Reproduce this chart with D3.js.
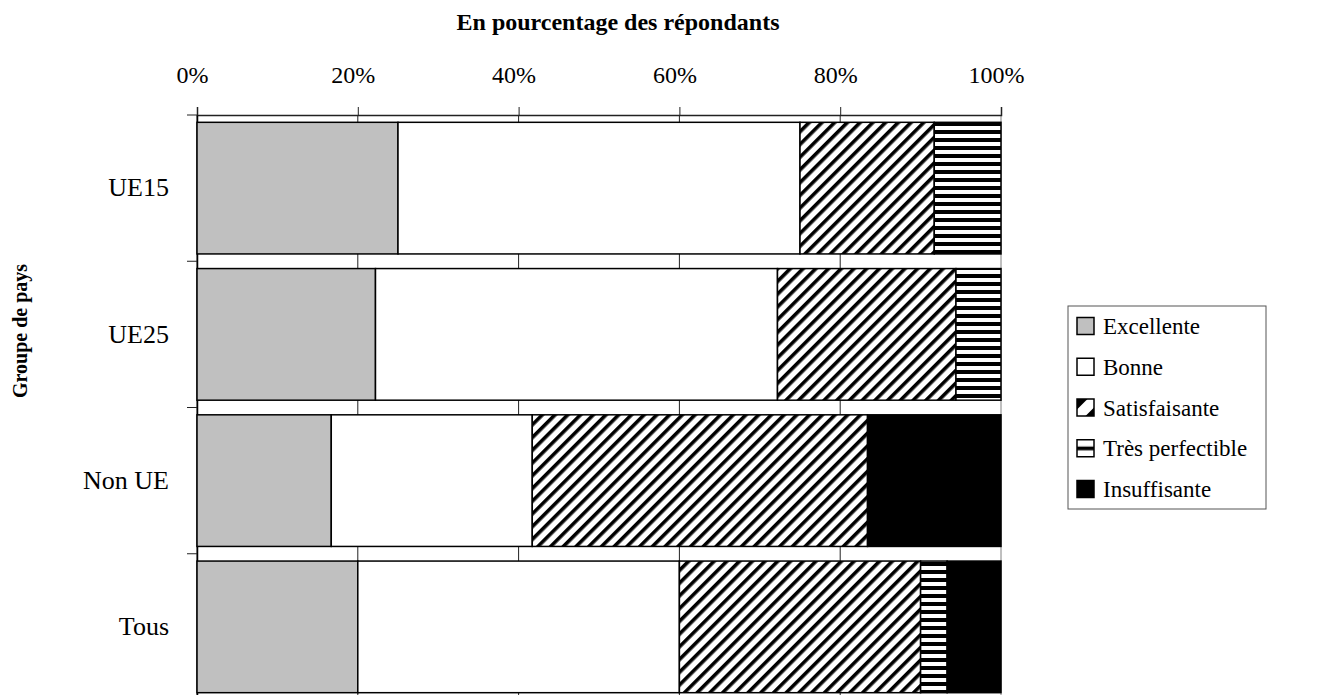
<!DOCTYPE html>
<html><head><meta charset="utf-8">
<script src="https://cdn.jsdelivr.net/npm/d3@7"></script>
<style>
body{margin:0;background:#fff;}
svg{display:block;font-family:"Liberation Serif","Times New Roman",serif;}
</style>
</head><body>
<svg id="c" width="1319" height="695"></svg>
<script>
// ---- data ----
const categories = ["UE15", "UE25", "Non UE", "Tous"];
const seriesNames = ["Excellente", "Bonne", "Satisfaisante", "Très perfectible", "Insuffisante"];
const excellente = [25.0, 22.2, 16.7, 20.0];
const bonne = [50.0, 50.0, 25.0, 40.0];
const satisfaisante = [16.7, 22.2, 41.7, 30.0];
const tresPerfectible = [8.3, 5.6, 0, 3.3];
const insuffisante = [0, 0, 16.6, 6.7];
const xTicks = [0, 20, 40, 60, 80, 100];
const xTitle = "En pourcentage des répondants";
const yTitle = "Groupe de pays";

(function () {
// ---- build table ----
const keys = ["exc", "bon", "sat", "tre", "ins"];
const table = categories.map((c, i) => ({
  cat: c, exc: excellente[i], bon: bonne[i], sat: satisfaisante[i], tre: tresPerfectible[i], ins: insuffisante[i]
}));
const stacked = d3.stack().keys(keys)(table);

const svg = d3.select("#c");
const defs = svg.append("defs");

// patterns
const pd = defs.append("pattern").attr("id", "diag").attr("patternUnits", "userSpaceOnUse")
  .attr("width", 9).attr("height", 9).attr("patternTransform", "rotate(45)");
pd.append("rect").attr("width", 9).attr("height", 9).attr("fill", "#fff");
pd.append("rect").attr("width", 3.6).attr("height", 9).attr("fill", "#000");

const ph = defs.append("pattern").attr("id", "horiz").attr("patternUnits", "userSpaceOnUse")
  .attr("width", 8).attr("height", 8);
ph.append("rect").attr("width", 8).attr("height", 8).attr("fill", "#fff");
ph.append("rect").attr("y", 2).attr("width", 8).attr("height", 4).attr("fill", "#000");

const pdl = defs.append("pattern").attr("id", "diagL").attr("patternUnits", "objectBoundingBox")
  .attr("patternContentUnits", "objectBoundingBox").attr("width", 1).attr("height", 1);
pdl.append("rect").attr("width", 1).attr("height", 1).attr("fill", "#fff");
pdl.append("polygon").attr("points", "0,0 0.62,0 0,0.62").attr("fill", "#000");
pdl.append("polygon").attr("points", "1,0.5 1,1 0.5,1").attr("fill", "#000");

const phl = defs.append("pattern").attr("id", "horizL").attr("patternUnits", "objectBoundingBox")
  .attr("patternContentUnits", "objectBoundingBox").attr("width", 1).attr("height", 1);
phl.append("rect").attr("width", 1).attr("height", 1).attr("fill", "#fff");
phl.append("rect").attr("y", 0.4).attr("width", 1).attr("height", 0.22).attr("fill", "#000");

const fills = { exc: "#c0c0c0", bon: "#ffffff", sat: "url(#diag)", tre: "url(#horiz)", ins: "#000000" };
const legendFills = { exc: "#c0c0c0", bon: "#ffffff", sat: "url(#diagL)", tre: "url(#horizL)", ins: "#000000" };

// ---- scales ----
const plotTop = 115, plotBottom = 700;
const x = d3.scaleLinear().domain([0, 100]).range([197, 1001]);
const y = d3.scaleBand().domain(categories).range([plotTop, plotBottom]).paddingInner(0.1).paddingOuter(0.05);

// gridlines (vertical)
svg.append("g").selectAll("line").data(xTicks).join("line")
  .attr("x1", d => x(d)).attr("x2", d => x(d))
  .attr("y1", plotTop).attr("y2", plotBottom)
  .attr("stroke", d => d === 100 ? "#808080" : "#222").attr("stroke-width", 1);

// x axis on top
const xAxis = d3.axisTop(x).tickValues(xTicks).tickFormat(d => d + "%").tickSize(8).tickPadding(24);
const gx = svg.append("g").attr("transform", `translate(0,${plotTop})`).call(xAxis);
gx.select(".domain").attr("stroke", "#222").attr("stroke-width", 1.5);
gx.selectAll(".tick line").attr("stroke", "#222");
gx.selectAll(".tick text").attr("font-size", 24).attr("font-family", "Liberation Serif, serif")
  .attr("fill", "#000").attr("dx", -5);

// y axis (left)
const yAxis = d3.axisLeft(y).tickSize(0).tickPadding(28);
const gy = svg.append("g").attr("transform", `translate(${x(0)},0)`).call(yAxis);
gy.select(".domain").attr("stroke", "#000").attr("stroke-width", 1.5);
gy.selectAll(".tick text").attr("font-size", 26).attr("font-family", "Liberation Serif, serif").attr("fill", "#000");
// boundary tick marks between categories
const step = y.step();
const boundaries = d3.range(categories.length + 1).map(i => plotTop + i * step);
svg.append("g").selectAll("line").data(boundaries).join("line")
  .attr("x1", x(0) - 10).attr("x2", x(0)).attr("y1", d => d).attr("y2", d => d)
  .attr("stroke", "#222").attr("stroke-width", 1);

// bars
svg.append("g").selectAll("g").data(stacked).join("g")
  .attr("fill", d => fills[d.key])
  .selectAll("rect").data(d => d.filter(s => s[1] - s[0] > 0)).join("rect")
  .attr("x", d => x(d[0])).attr("width", d => x(d[1]) - x(d[0]))
  .attr("y", d => y(d.data.cat)).attr("height", y.bandwidth())
  .attr("stroke", "#000").attr("stroke-width", 1.5);

// titles
svg.append("text").attr("x", 618).attr("y", 30).attr("text-anchor", "middle")
  .attr("font-size", 24).attr("font-weight", "bold").text(xTitle);
svg.append("text").attr("transform", "translate(27,331) rotate(-90)").attr("text-anchor", "middle")
  .attr("font-size", 20).attr("font-weight", "bold").text(yTitle);

// legend
const lg = svg.append("g");
lg.append("rect").attr("x", 1068).attr("y", 306).attr("width", 198).attr("height", 203)
  .attr("fill", "#fff").attr("stroke", "#555").attr("stroke-width", 1);
const ly = d3.scalePoint().domain(keys).range([326, 489]);
const items = lg.selectAll("g").data(keys).join("g");
items.append("rect").attr("x", 1077).attr("y", d => ly(d) - 8.5).attr("width", 17).attr("height", 17)
  .attr("fill", d => legendFills[d]).attr("stroke", "#000").attr("stroke-width", 1.5);
items.append("text").attr("x", 1103).attr("y", d => ly(d) + 8).attr("font-size", 23)
  .text((d, i) => seriesNames[i]);
})();
</script>
</body></html>
